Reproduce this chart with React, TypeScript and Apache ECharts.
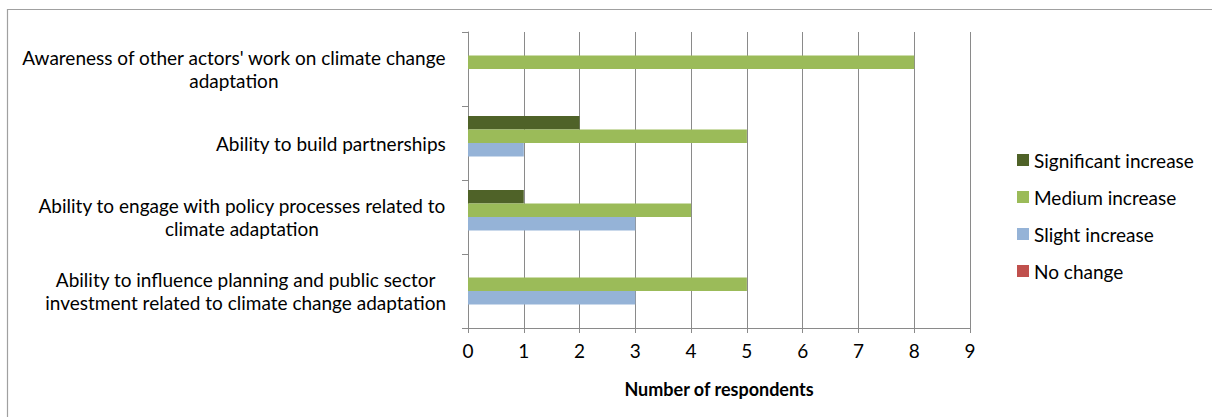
import { useEffect, useRef } from "react";
import * as echarts from "echarts";

// Survey items, listed top to bottom
const categories = [
  "Awareness of other actors' work on climate change\nadaptation",
  "Ability to build partnerships",
  "Ability to engage with policy processes related to\nclimate adaptation",
  "Ability to influence planning and public sector\ninvestment related to climate change adaptation",
];

// Number of respondents per level of change
const significantIncrease = [0, 2, 1, 0];
const mediumIncrease = [8, 5, 4, 5];
const slightIncrease = [0, 1, 3, 3];
const noChange = [0, 0, 0, 0];

const seriesNames = ["Significant increase", "Medium increase", "Slight increase", "No change"];
const seriesColors = ["#4F6228", "#9BBB59", "#95B3D7", "#C0504D"];

const FONT = "Lato, 'Noto Sans', sans-serif";
const AXIS_GRAY = "#8a8a8a";

export default function App() {
  const ref = useRef<HTMLDivElement>(null);

  useEffect(() => {
    if (!ref.current) return;
    const chart = echarts.init(ref.current, undefined, { renderer: "svg" });
    const values = [significantIncrease, mediumIncrease, slightIncrease, noChange];

    chart.setOption({
      animation: false,
      backgroundColor: "#ffffff",
      textStyle: { fontFamily: FONT, color: "#000000" },
      graphic: [
        {
          type: "rect",
          shape: { x: 7.5, y: 9.5, width: 1300, height: 500 },
          style: { fill: "none", stroke: "#a0a0a0", lineWidth: 1.2 },
          silent: true,
        },
      ],
      grid: {
        left: 468,
        right: 242,
        top: 32,
        bottom: 89,
        containLabel: false,
        outerBoundsMode: "none",
      },
      legend: {
        orient: "vertical",
        left: 1012,
        top: 144,
        itemWidth: 12,
        itemHeight: 12,
        itemGap: 15,
        icon: "rect",
        data: seriesNames,
        textStyle: { fontFamily: FONT, fontSize: 19, color: "#000", lineHeight: 22 },
      },
      xAxis: {
        type: "value",
        min: 0,
        max: 9,
        interval: 1,
        name: "Number of respondents",
        nameLocation: "middle",
        nameGap: 52,
        nameTextStyle: { fontFamily: FONT, fontSize: 18, fontWeight: "bold", color: "#000" },
        axisLine: { show: true, lineStyle: { color: AXIS_GRAY, width: 1 } },
        axisTick: { show: true, length: 5, lineStyle: { color: AXIS_GRAY } },
        axisLabel: { margin: 13, fontFamily: FONT, fontSize: 19, color: "#000" },
        splitLine: { show: true, lineStyle: { color: AXIS_GRAY, width: 1 } },
      },
      yAxis: {
        type: "category",
        inverse: true,
        data: categories,
        axisLine: { show: true, lineStyle: { color: AXIS_GRAY, width: 1 } },
        axisTick: { show: true, length: 6, lineStyle: { color: AXIS_GRAY } },
        axisLabel: {
          margin: 22,
          interval: 0,
          formatter: (v: string) =>
            v
              .split("\n")
              .map((line) => `{c|${line}}`)
              .join("\n"),
          rich: {
            c: { align: "center", fontFamily: FONT, fontSize: 19, lineHeight: 23, color: "#000" },
          },
        },
        splitLine: { show: false },
      },
      series: seriesNames.map((name, i) => ({
        name,
        type: "bar",
        data: values[i],
        barWidth: 13.5,
        barGap: "0%",
        itemStyle: { color: seriesColors[i] },
      })),
    });

    return () => chart.dispose();
  }, []);

  return (
    <div
      ref={ref}
      style={{ position: "absolute", left: 0, top: 0, width: 1212, height: 417 }}
    />
  );
}
